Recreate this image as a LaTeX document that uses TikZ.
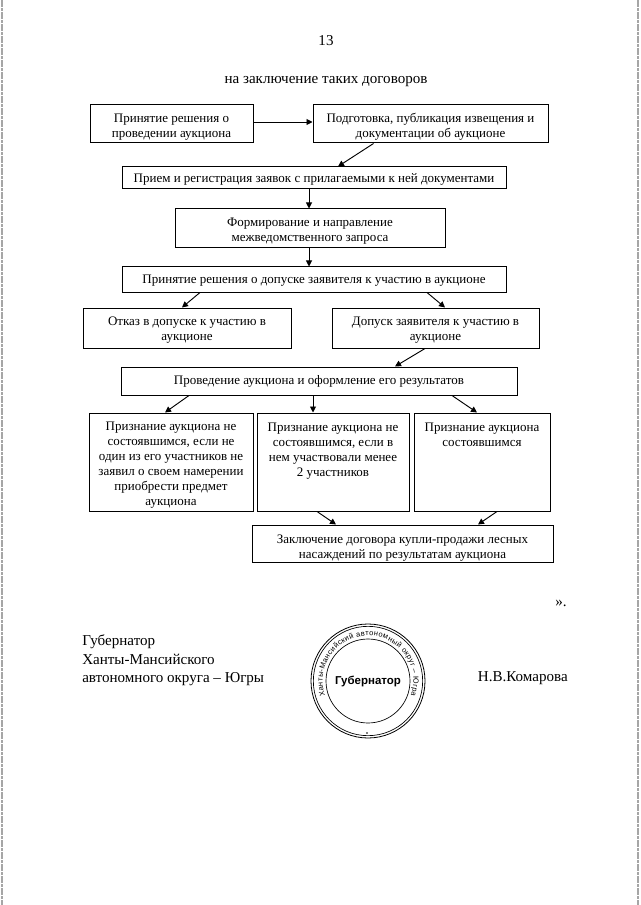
\documentclass[tikz,border=0pt]{standalone}
\usepackage{fontspec}
\setmainfont{Liberation Serif}
\setsansfont{Liberation Sans}
\usetikzlibrary{arrows.meta,decorations.text}
\newcommand{\lift}[1]{\rule{0pt}{#1pt}}
\begin{document}
\begin{tikzpicture}[x=0.75pt,y=-0.75pt]
\tikzstyle{block}=[draw, rectangle, line width=0.75pt, inner sep=0pt, align=center, font=\fontsize{9.75}{11.25}\selectfont]
\tikzstyle{line}=[draw, -{Stealth[length=4.5pt,width=4.5pt,inset=0pt]}, line width=0.7pt]
\tikzstyle{plain}=[inner sep=0pt, font=\fontsize{11.3}{13.9}\selectfont]
\tikzstyle{edge}=[gray!70, line width=0.9pt, dash pattern=on 5pt off 1pt on 2pt off 1pt]
\useasboundingbox (0,0) rectangle (640,905);

% Scan edges
\draw[edge] (2,0) -- (2,905);
\draw[edge] (638,0) -- (638,905);

% Page text
\node[plain, anchor=base] (pagenum) at (326,46) {13};
\node[plain, anchor=base] (heading) at (326,84) {на заключение таких договоров};

% Define blocks
\node[block, minimum width=122.25pt, minimum height=28.5pt] (decide) at (171.5,124) {\lift{11.2}Принятие решения о\\проведении аукциона};
\node[block, minimum width=176.25pt, minimum height=28.5pt] (notice) at (430.5,124) {\lift{11.2}Подготовка, публикация извещения и\\документации об аукционе};
\node[block, minimum width=288pt, minimum height=16.5pt] (register) at (314,178) {\lift{8.2}Прием и регистрация заявок с прилагаемыми к ней документами};
\node[block, minimum width=202.5pt, minimum height=29.25pt] (request) at (310,228.5) {\lift{9.7}Формирование и направление\\межведомственного запроса};
\node[block, minimum width=288pt, minimum height=18.75pt] (admit) at (314,279.5) {\lift{8.2}Принятие решения о допуске заявителя к участию в аукционе};
\node[block, minimum width=156pt, minimum height=30pt] (refuse) at (187,328) {\lift{9.7}Отказ в допуске к участию в\\аукционе};
\node[block, minimum width=155.25pt, minimum height=30pt] (accept) at (435.5,328) {\lift{9.7}Допуск заявителя к участию в\\аукционе};
\node[block, minimum width=297pt, minimum height=21pt] (auction) at (319,381) {Проведение аукциона и оформление его результатов};
\node[block, minimum width=123pt, minimum height=73.5pt] (voidone) at (171,462) {\lift{11.2}Признание аукциона не\\состоявшимся, если не\\один из его участников не\\заявил о своем намерении\\приобрести предмет\\аукциона};
\node[block, minimum width=114pt, minimum height=73.5pt] (voidtwo) at (333,462) {\lift{11.2}Признание аукциона не\\состоявшимся, если в\\нем участвовали менее\\2 участников\\~\\~};
\node[block, minimum width=102pt, minimum height=73.5pt] (valid) at (482,462) {\lift{11.2}Признание аукциона\\состоявшимся\\~\\~\\~\\~};
\node[block, minimum width=225.75pt, minimum height=27.75pt] (contract) at (402.5,543.5) {\lift{12.7}Заключение договора купли-продажи лесных\\насаждений по результатам аукциона};

% Message flow
\draw[line] ([shift={(0,-2)}]decide.east) -- ([shift={(0,-2)}]notice.west);
\draw[line] ([shift={(-57,0)}]notice.south) -- ([shift={(24,0)}]register.north);
\draw[line] ([shift={(-5,0)}]register.south) -- ([shift={(-1,0)}]request.north);
\draw[line] ([shift={(-1,0)}]request.south) -- ([shift={(-5,0)}]admit.north);
\draw[line] ([shift={(-114,0)}]admit.south) -- ([shift={(-5,0)}]refuse.north);
\draw[line] ([shift={(113,0)}]admit.south) -- ([shift={(9.5,0)}]accept.north);
\draw[line] ([shift={(-10.5,0)}]accept.south) -- ([shift={(76,0)}]auction.north);
\draw[line] ([shift={(-130,0)}]auction.south) -- ([shift={(-6,0)}]voidone.north);
\draw[line] ([shift={(-6,0)}]auction.south) -- ([shift={(-20,0)}]voidtwo.north);
\draw[line] ([shift={(133,0)}]auction.south) -- ([shift={(-5,0)}]valid.north);
\draw[line] ([shift={(-16,0)}]voidtwo.south) -- ([shift={(-66.5,0)}]contract.north);
\draw[line] ([shift={(15,0)}]valid.south) -- ([shift={(75.5,0)}]contract.north);

% Signature
\node[plain, anchor=base] (close) at (561,606) {».};
\node[plain, anchor=base west] (role) at (82,645) {Губернатор};
\node[plain, anchor=base west] (region) at (82,664) {Ханты-Мансийского};
\node[plain, anchor=base west] (district) at (82,682) {автономного округа – Югры};
\node[plain, anchor=base east] (signer) at (568,681) {Н.В.Комарова};

% Stamp
\node[draw, circle, line width=0.6pt, minimum size=85.5pt, inner sep=0pt] (stampouter) at (368,681) {};
\node[draw, circle, line width=0.5pt, minimum size=82pt, inner sep=0pt] (stampring) at (368,681) {};
\node[draw, circle, line width=0.5pt, minimum size=63pt, inner sep=0pt, font=\sffamily\bfseries\fontsize{8.6}{10}\selectfont] (stampinner) at (368,681) {Губернатор};
\path[postaction={decorate, decoration={text along path, text align={fit to path}, text={|\sffamily\fontsize{5.6}{7}\selectfont|Ханты-Мансийский автономный округ – Югра}}}] (stampinner.center) ++(199:34pt) arc[start angle=199, end angle=-19, radius=34pt];
\fill (367,733) circle (0.7pt);
\end{tikzpicture}
\end{document}
